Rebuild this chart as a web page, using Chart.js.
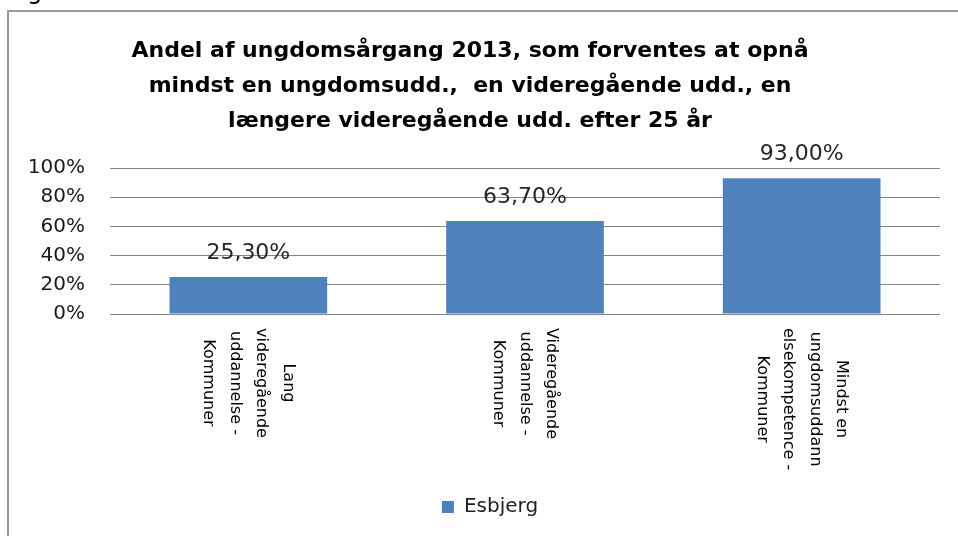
<!DOCTYPE html>
<html>
<head>
<meta charset="utf-8">
<script src="https://cdn.jsdelivr.net/npm/chart.js@4"></script>
<style>
  html, body { margin: 0; padding: 0; background: #fff; overflow: hidden; }
  body { width: 958px; height: 536px; position: relative; }
  #frame { position: absolute; left: 7px; top: 10px; width: 1000px; height: 600px;
           border: 2px solid #9a9a9a; box-sizing: border-box; }
  #frag { position: absolute; left: 27px; top: -23px; font: 24px "DejaVu Sans"; color: #000; }
  #grafico { position: absolute; left: 0; top: 0; }
</style>
</head>
<body>
<div id="frag">g</div>
<div id="frame"></div>
<canvas id="grafico" width="958" height="536"></canvas>
<script>
const kategorier = [
  ['Lang', 'videregående', 'uddannelse -', 'Kommuner'],
  ['Videregående', 'uddannelse -', 'Kommuner'],
  ['Mindst en', 'ungdomsuddann', 'elsekompetence -', 'Kommuner']
];
const esbjerg = [25.3, 63.7, 93.0];
const yTicks = [0, 20, 40, 60, 80, 100];

const titel = [
  'Andel af ungdomsårgang 2013, som forventes at opnå',
  'mindst en ungdomsudd.,  en videregående udd., en',
  'længere videregående udd. efter 25 år'
];

// skriver procenter over søjlerne
const vaerdiTekst = {
  id: 'vaerdiTekst',
  afterDatasetsDraw(chart) {
    const c = chart.ctx;
    const meta = chart.getDatasetMeta(0);
    c.save();
    c.font = '22px "DejaVu Sans"';
    c.fillStyle = '#262626';
    c.textAlign = 'center';
    c.textBaseline = 'middle';
    meta.data.forEach((bar, i) => {
      const v = chart.data.datasets[0].data[i];
      c.fillText(v.toFixed(2).replace('.', ',') + '%', bar.x, bar.y - 24);
    });
    c.restore();
  }
};

// lodrette kategoritekster, drejet med uret
const kategoriTekst = {
  id: 'kategoriTekst',
  afterDraw(chart) {
    const c = chart.ctx;
    const xs = chart.scales.x;
    const top = chart.chartArea.bottom + 14;
    const afstand = 26.5;
    c.save();
    c.font = '16px "DejaVu Sans"';
    c.fillStyle = '#000';
    c.textAlign = 'center';
    c.textBaseline = 'middle';
    kategorier.forEach((linjer, i) => {
      const cx = xs.getPixelForValue(i);
      const maxW = Math.max(...linjer.map(l => c.measureText(l).width));
      const n = linjer.length;
      linjer.forEach((l, j) => {
        const x = cx + ((n - 1) / 2 - j) * afstand;
        c.save();
        c.translate(x, top + maxW / 2);
        c.rotate(Math.PI / 2);
        c.fillText(l, 0, 0);
        c.restore();
      });
    });
    c.restore();
  }
};

// forklaringen sidder lidt til højre i originalen
const flytLegend = {
  id: 'flytLegend',
  afterLayout(chart) {
    chart.legend.left += 40;
  }
};

const ctx = document.getElementById('grafico');

new Chart(ctx, {
  type: 'bar',
  data: {
    labels: kategorier,
    datasets: [{
      label: 'Esbjerg',
      data: esbjerg,
      backgroundColor: '#4F81BD',
      borderWidth: 0,
      categoryPercentage: 1,
      barPercentage: 0.57
    }]
  },
  options: {
    responsive: false,
    animation: false,
    layout: { padding: { left: 0, right: 18, top: 0, bottom: 9 } },
    plugins: {
      title: {
        display: true,
        text: titel,
        color: '#000',
        font: { family: 'DejaVu Sans', size: 22, weight: 'bold', lineHeight: '35px' },
        padding: { top: 34, bottom: 29 }
      },
      legend: {
        position: 'bottom',
        labels: {
          boxWidth: 12,
          boxHeight: 12,
          color: '#222',
          font: { family: 'DejaVu Sans', size: 20 }
        }
      },
      tooltip: { enabled: false }
    },
    scales: {
      x: {
        grid: { display: false },
        border: { display: false },
        ticks: { display: false },
        afterFit(scale) { scale.height = 173; }
      },
      y: {
        min: 0,
        max: 100,
        afterBuildTicks(scale) { scale.ticks = yTicks.map(v => ({ value: v })); },
        grid: { color: '#868686', lineWidth: 1, drawTicks: false },
        border: { display: false },
        ticks: {
          padding: 25,
          color: '#1a1a1a',
          font: { family: 'DejaVu Sans', size: 20 },
          callback: v => v + '%'
        },
        afterFit(scale) { scale.width = 110; }
      }
    }
  },
  plugins: [vaerdiTekst, kategoriTekst, flytLegend]
});
</script>
</body>
</html>
